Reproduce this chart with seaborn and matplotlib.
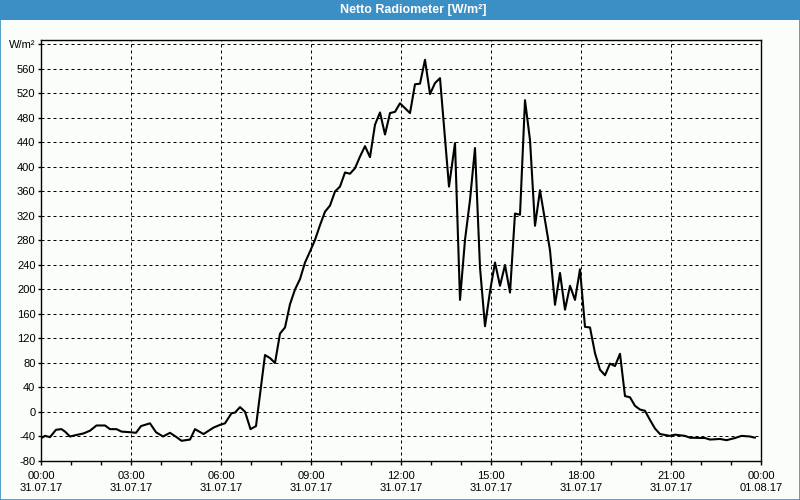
import matplotlib
matplotlib.use("Agg")
import matplotlib.pyplot as plt
import pandas as pd
import seaborn as sns
from matplotlib.patches import Rectangle

# ---------------- data ----------------
times = ["00:00", "00:08", "00:18", "00:30", "00:41", "00:48", "00:58", "01:11", "01:25", "01:38",
         "01:51", "02:08", "02:18", "02:31", "02:41", "02:58", "03:10", "03:20", "03:38", "03:50",
         "04:04", "04:18", "04:31", "04:41", "04:58", "05:08", "05:25", "05:45", "05:58", "06:08",
         "06:21", "06:28", "06:38", "06:48", "06:59", "07:10", "07:28", "07:38", "07:48", "07:58",
         "08:08", "08:18", "08:28", "08:38", "08:48", "08:58", "09:08", "09:18", "09:28", "09:38",
         "09:48", "09:58", "10:08", "10:18", "10:28", "10:38", "10:48", "10:58", "11:08", "11:18",
         "11:28", "11:38", "11:48", "11:58", "12:08", "12:18", "12:28", "12:38", "12:48", "12:58",
         "13:08", "13:18", "13:36", "13:48", "13:58", "14:08", "14:18", "14:28", "14:38", "14:48",
         "14:58", "15:08", "15:18", "15:28", "15:38", "15:48", "15:58", "16:08", "16:18", "16:28",
         "16:38", "16:48", "16:58", "17:08", "17:18", "17:28", "17:38", "17:48", "17:58", "18:08",
         "18:18", "18:28", "18:38", "18:48", "18:58", "19:08", "19:18", "19:28", "19:38", "19:48",
         "19:58", "20:08", "20:18", "20:28", "20:38", "20:58", "21:08", "21:28", "21:38", "22:08",
         "22:18", "22:38", "22:51", "23:08", "23:21", "23:38", "23:48"]
values = [-43, -39, -41, -29, -28, -32, -40, -37.5, -35, -30.5,
          -22, -22, -28, -28, -32, -33, -34, -23, -18.5, -33,
          -40, -34, -41, -47, -45, -28, -36, -25.5, -21, -18.5,
          -2, -1, 8, 0.5, -28, -23, 93, 88, 80, 128,
          138, 176, 200, 217, 244, 262, 281, 305, 327, 337,
          360, 368, 391, 389, 398, 417, 434, 416, 469, 489,
          453, 488, 490, 504, 496, 488, 535, 536, 575, 519,
          537, 545, 368, 439, 183, 281, 346, 431, 236, 140,
          197, 244, 206, 240, 195, 324, 322, 509, 444, 304,
          362, 313, 264, 175, 227, 167, 206, 183, 233, 139,
          138, 96, 69, 60, 79, 75, 95, 26, 24, 10,
          4, 2, -13, -27, -36, -39, -37, -39, -42, -42.5,
          -45, -44, -46, -42.5, -39, -40, -42]

x_tick_hours = [0, 3, 6, 9, 12, 15, 18, 21, 24]
x_tick_labels = ["00:00\n31.07.17", "03:00\n31.07.17", "06:00\n31.07.17", "09:00\n31.07.17",
                 "12:00\n31.07.17", "15:00\n31.07.17", "18:00\n31.07.17", "21:00\n31.07.17",
                 "00:00\n01.08.17"]
y_ticks = [-80, -40, 0, 40, 80, 120, 160, 200, 240, 280, 320, 360, 400, 440, 480, 520, 560, 600]
y_tick_labels = ["-80", "-40", "0", "40", "80", "120", "160", "200", "240", "280", "320",
                 "360", "400", "440", "480", "520", "560", "W/m²"]
title = "Netto Radiometer [W/m²]"

# ---------------- style ----------------
sns.set_style("white")
plt.rcParams['font.family'] = ['Liberation Sans', 'DejaVu Sans']

bg = "#fbfdfb"
blue = "#3c8fc4"

hours = [int(t[:2]) + int(t[3:]) / 60 for t in times]
df = pd.DataFrame({"hour": hours, "value": values})

fig = plt.figure(figsize=(8, 5), dpi=100, facecolor=bg)
ax = fig.add_axes([41 / 800, 39 / 500, 720 / 800, 421 / 500])
ax.set_facecolor(bg)

sns.lineplot(data=df, x="hour", y="value", color="black", linewidth=1.5, ax=ax)

ax.set_xlim(0, 24)
ax.set_ylim(-80, 607.3)
ax.set_xticks(x_tick_hours)
ax.set_xticklabels(x_tick_labels, fontsize=8, linespacing=1.3)
ax.set_xticks(range(0, 25), minor=True)
ax.set_yticks(y_ticks)
ax.set_yticklabels(y_tick_labels, fontsize=8)
ax.set_xlabel("")
ax.set_ylabel("")

ax.tick_params(axis="x", which="both", bottom=True, direction="out", length=3,
               width=1, color="black", labelcolor="black", pad=4)
ax.tick_params(axis="y", which="both", left=True, direction="out", length=2.5,
               width=1, color="black", labelcolor="black", pad=1.5)

ax.grid(True, which="major", color="black", linestyle=(0, (3, 3)), linewidth=0.72)
ax.set_axisbelow(True)
for s in ax.spines.values():
    s.set_color("black")
    s.set_linewidth(1)
    s.set_visible(True)

# title bar
fig.patches.append(Rectangle((0, 480 / 500), 1, 20 / 500, transform=fig.transFigure,
                             facecolor=blue, edgecolor="none", zorder=0))
fig.patches.append(Rectangle((0.0006, 0.001), 0.9988, 0.998, transform=fig.transFigure,
                             facecolor="none", edgecolor=blue, linewidth=1.2, zorder=5))
fig.text(413 / 800, 490 / 500, title, color="white", fontsize=9, fontweight="bold",
         ha="center", va="center", family=["Liberation Sans", "DejaVu Sans"])

fig.savefig("out.png", dpi=100, facecolor=bg)
